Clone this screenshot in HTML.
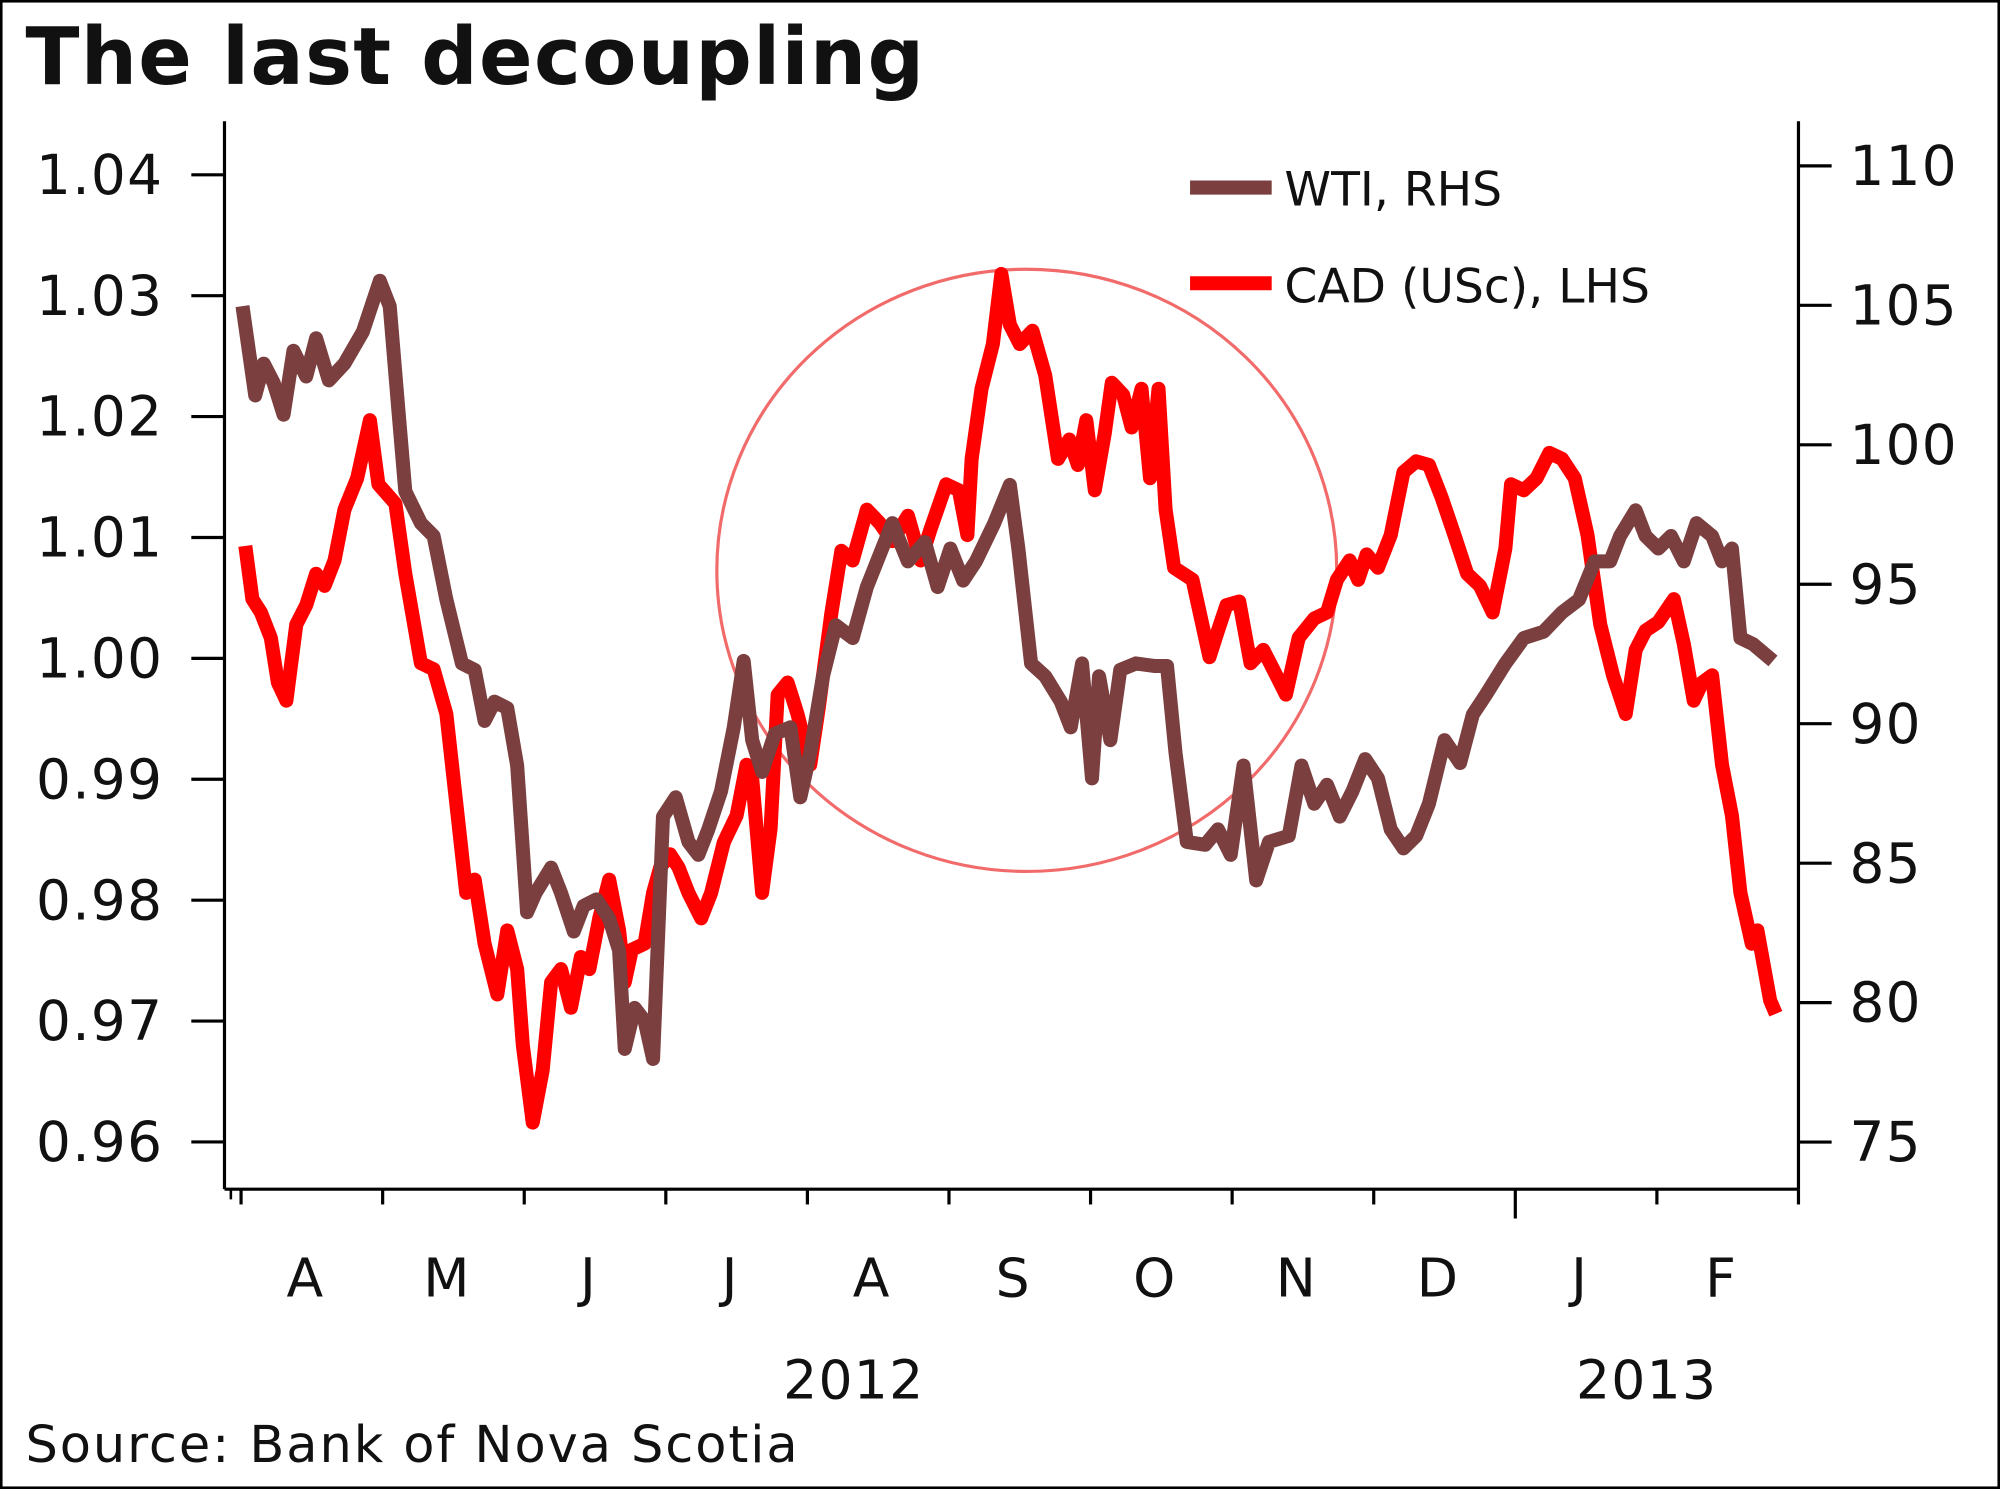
<!DOCTYPE html>
<html><head><meta charset="utf-8"><style>
html,body{margin:0;padding:0;background:#fff;}
svg{display:block;}
text{font-family:"DejaVu Sans","Liberation Sans",sans-serif;fill:#111;}
</style></head>
<body>
<svg id="chart" width="2000" height="1489" viewBox="0 0 1568 1167" preserveAspectRatio="none">
<rect x="1" y="1" width="1566" height="1165" fill="#fff" stroke="#000" stroke-width="2"/>
<text x="20" y="66" font-size="62" font-weight="bold" letter-spacing="1" style="font-family:'DejaVu Sans',sans-serif">The last decoupling</text>
<g id="axes"></g>
<ellipse cx="805" cy="447" rx="243" ry="236" fill="none" stroke="#f26b6b" stroke-width="2.5"/>
<g id="series"></g>
<g>
<line x1="933" y1="147" x2="997" y2="147" stroke="#7b3f3f" stroke-width="11"/>
<text x="1007" y="161" font-size="37">WTI, RHS</text>
<line x1="933" y1="222" x2="997" y2="222" stroke="#ff0000" stroke-width="11"/>
<text x="1007" y="237" font-size="37">CAD (USc), LHS</text>
</g>
<text x="20" y="1146" font-size="40" letter-spacing="1.5">Source: Bank of Nova Scotia</text>
</svg>
<script>
const leftTicks=[0.96,0.97,0.98,0.99,1.00,1.01,1.02,1.03,1.04];
const rightTicks=[75,80,85,90,95,100,105,110];
const monthLabels=["A","M","J","J","A","S","O","N","D","J","F"];
const yearLabels=["2012","2013"];
const yearPos=[4.4,10.0];
const cadT=[0.03,0.08,0.14,0.21,0.26,0.32,0.39,0.46,0.53,0.59,0.66,0.73,0.82,0.91,0.97,1.09,1.16,1.27,1.36,1.45,1.54,1.59,1.65,1.72,1.81,1.88,1.95,1.99,2.06,2.13,2.19,2.26,2.33,2.40,2.46,2.53,2.60,2.67,2.71,2.76,2.85,2.91,2.96,3.03,3.09,3.16,3.25,3.32,3.41,3.50,3.57,3.61,3.68,3.74,3.79,3.86,3.93,4.02,4.08,4.17,4.24,4.32,4.42,4.51,4.60,4.71,4.80,4.87,4.98,5.07,5.13,5.16,5.23,5.31,5.37,5.43,5.50,5.59,5.68,5.77,5.85,5.91,5.97,6.03,6.10,6.15,6.23,6.29,6.36,6.42,6.48,6.53,6.59,6.72,6.84,6.90,6.96,7.05,7.13,7.22,7.29,7.38,7.47,7.58,7.67,7.74,7.83,7.89,7.95,8.03,8.12,8.21,8.30,8.39,8.48,8.57,8.66,8.75,8.84,8.93,8.97,9.06,9.15,9.24,9.33,9.42,9.51,9.60,9.69,9.78,9.85,9.92,10.01,10.12,10.19,10.26,10.32,10.39,10.46,10.53,10.59,10.67,10.71,10.80,10.84];
const cadVals=[1.0093,1.0049,1.0038,1.0017,0.9980,0.9965,1.0028,1.0044,1.0070,1.0060,1.0081,1.0123,1.0149,1.0197,1.0144,1.0128,1.0070,0.9996,0.9991,0.9954,0.9859,0.9806,0.9817,0.9764,0.9722,0.9775,0.9743,0.9680,0.9616,0.9659,0.9732,0.9743,0.9711,0.9753,0.9743,0.9785,0.9817,0.9775,0.9732,0.9759,0.9764,0.9806,0.9827,0.9838,0.9827,0.9806,0.9785,0.9806,0.9848,0.9870,0.9912,0.9901,0.9806,0.9859,0.9970,0.9980,0.9954,0.9912,0.9959,1.0038,1.0089,1.0081,1.0123,1.0112,1.0097,1.0118,1.0081,1.0107,1.0144,1.0139,1.0102,1.0165,1.0223,1.0260,1.0318,1.0276,1.0260,1.0271,1.0234,1.0165,1.0181,1.0160,1.0197,1.0139,1.0186,1.0228,1.0218,1.0191,1.0223,1.0149,1.0223,1.0123,1.0075,1.0065,1.0001,1.0023,1.0044,1.0047,0.9996,1.0007,0.9991,0.9970,1.0017,1.0033,1.0038,1.0065,1.0081,1.0065,1.0086,1.0075,1.0102,1.0154,1.0163,1.0160,1.0133,1.0102,1.0070,1.0060,1.0038,1.0091,1.0144,1.0139,1.0149,1.0170,1.0165,1.0149,1.0102,1.0028,0.9986,0.9954,1.0007,1.0023,1.0030,1.0049,1.0012,0.9965,0.9980,0.9986,0.9912,0.9870,0.9806,0.9764,0.9775,0.9717,0.9706];
const wtiT=[0.01,0.10,0.16,0.23,0.30,0.37,0.46,0.53,0.62,0.73,0.86,0.98,1.05,1.11,1.16,1.27,1.36,1.45,1.56,1.65,1.72,1.79,1.88,1.95,2.02,2.08,2.19,2.26,2.35,2.42,2.51,2.60,2.67,2.71,2.78,2.85,2.91,2.98,3.07,3.16,3.23,3.30,3.39,3.48,3.55,3.61,3.68,3.77,3.88,3.95,4.02,4.11,4.20,4.32,4.42,4.51,4.60,4.71,4.83,4.92,5.01,5.10,5.19,5.32,5.43,5.49,5.58,5.68,5.79,5.86,5.94,6.01,6.06,6.14,6.21,6.32,6.45,6.54,6.60,6.68,6.81,6.90,6.99,7.08,7.17,7.26,7.40,7.49,7.58,7.67,7.76,7.85,7.94,8.03,8.12,8.21,8.30,8.39,8.50,8.61,8.70,8.79,8.93,9.06,9.20,9.33,9.45,9.56,9.67,9.74,9.85,9.92,10.01,10.10,10.19,10.28,10.39,10.46,10.53,10.59,10.68,10.82];
const wtiVals=[104.97,101.77,102.91,102.22,101.08,103.37,102.45,103.82,102.31,102.91,104.05,105.88,104.97,101.31,98.33,97.19,96.73,94.45,92.16,91.93,90.10,90.79,90.56,88.50,83.24,83.93,84.84,83.93,82.55,83.47,83.70,83.01,81.87,78.34,79.81,79.35,77.98,86.67,87.36,85.76,85.30,86.21,87.58,89.87,92.25,89.41,88.27,89.64,89.87,87.36,88.96,91.70,93.53,93.07,94.90,96.05,97.19,95.82,96.51,94.90,96.28,95.13,95.82,97.19,98.56,96.28,92.16,91.70,90.79,89.87,92.16,88.04,91.70,89.41,91.93,92.16,92.07,92.07,88.96,85.76,85.66,86.21,85.30,88.50,84.38,85.76,85.98,88.50,87.13,87.81,86.67,87.58,88.73,88.04,86.21,85.53,85.98,87.13,89.41,88.59,90.33,91.02,92.16,93.07,93.30,93.99,94.45,95.82,95.82,96.73,97.65,96.73,96.28,96.73,95.82,97.19,96.73,95.82,96.28,93.07,92.85,92.25];

const NS="http://www.w3.org/2000/svg";
const X=m=>189+111*m;
const YL=v=>137+(1.04-v)/0.01*94.75;
const YR=v=>130+(110-v)/5*109.3;
function mk(tag,attrs,parent){const e=document.createElementNS(NS,tag);for(const k in attrs)e.setAttribute(k,attrs[k]);parent.appendChild(e);return e;}
const ax=document.getElementById('axes');
let e;
e=mk('line',{x1:176,y1:95,x2:176,y2:932,stroke:'#000','stroke-width':2.5},ax);


e=mk('line',{x1:1410,y1:95,x2:1410,y2:932,stroke:'#000','stroke-width':2.5},ax);


e=mk('line',{x1:176,y1:932,x2:1410,y2:932,stroke:'#000','stroke-width':2.5},ax);


leftTicks.forEach(v=>{
 const y=YL(v);
 e=mk('line',{x1:150,y1:y,x2:176,y2:y,stroke:'#000','stroke-width':2.5},ax);
 
 
 e=mk('text',{x:128,y:y+15,'font-size':43,'text-anchor':'end','letter-spacing':1},ax);
 e.textContent=v.toFixed(2);
 
 
});
rightTicks.forEach(v=>{
 const y=YR(v);
 e=mk('line',{x1:1410,y1:y,x2:1436,y2:y,stroke:'#000','stroke-width':2.5},ax);
 
 
 e=mk('text',{x:1450,y:y+15,'font-size':43,'letter-spacing':1},ax);
 e.textContent=String(v);
 
 
});
for(let i=0;i<=11;i++){
 const x=X(i);const long=(i===9);
 e=mk('line',{x1:x,y1:932,x2:x,y2:long?955:944,stroke:'#000','stroke-width':2.5},ax);
 
 
}
e=mk('line',{x1:181,y1:932,x2:181,y2:940,stroke:'#000','stroke-width':2},ax);


monthLabels.forEach((m,i)=>{
 e=mk('text',{x:X(i+0.45),y:1016,'font-size':42,'text-anchor':'middle'},ax);
 e.textContent=m;
 
 
});
yearLabels.forEach((yl,i)=>{
 e=mk('text',{x:X(yearPos[i])-8,y:1096,'font-size':42,'text-anchor':'middle','letter-spacing':1},ax);
 e.textContent=yl;
 
 
});
const sg=document.getElementById('series');
e=mk('polyline',{points:cadT.map((t,i)=>X(t)+','+YL(cadVals[i])).join(' '),fill:'none',stroke:'#ff0000','stroke-width':11,'stroke-linejoin':'round'},sg);


e=mk('polyline',{points:wtiT.map((t,i)=>X(t)+','+YR(wtiVals[i])).join(' '),fill:'none',stroke:'#7b3f3f','stroke-width':11,'stroke-linejoin':'round'},sg);


</script>
</body></html>
